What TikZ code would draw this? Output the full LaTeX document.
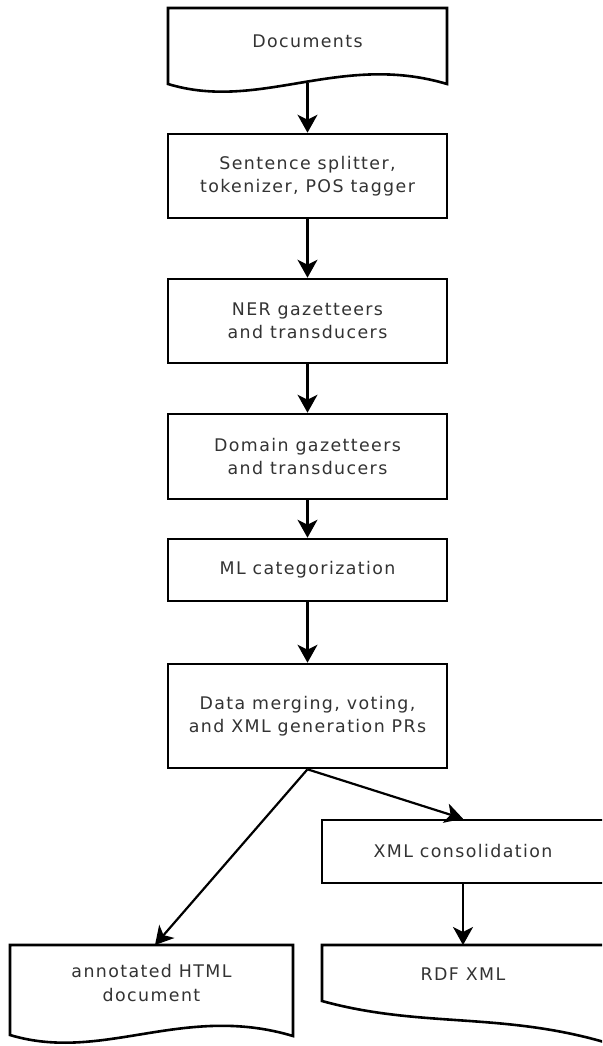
\documentclass[tikz,border=0pt]{standalone}
\usepackage{fontspec}
\setmainfont{DejaVu Sans}[LetterSpace=8]
\usetikzlibrary{arrows.meta}
\begin{document}
\begin{tikzpicture}[x=1pt,y=-1pt,
  every node/.style={font=\fontsize{17.4}{23.5}\selectfont, text=black!80, align=center},
  box/.style={draw=black, line width=2.6pt, rectangle, minimum width=279pt, inner sep=0pt},
  arr/.style={line width=2.2pt, -{Stealth[length=18pt,width=20pt,inset=5pt]}},
  docshape/.style={draw=black, line width=2.6pt, fill=white}]
\clip (0,0) rectangle (602,1046);
\fill[white] (0,0) rectangle (602,1046);
% Documents
\draw[docshape] (168,84) -- (168,8) -- (447,8) -- (447,84) .. controls (340,52) and (260,112) .. (168,84) -- cycle;
\node (docs) at (307.5,41) {Documents};
\coordinate (docsout) at (307.5,83);
% main boxes
\node[box, minimum height=84pt] (sent) at (307.5,176) {Sentence splitter,\\tokenizer, POS tagger};
\node[box, minimum height=84pt] (ner) at (307.5,321) {NER gazetteers\\and transducers};
\node[box, minimum height=85pt] (dom) at (307.5,456.5) {Domain gazetteers\\and transducers};
\node[box, minimum height=62pt] (ml) at (307.5,570) {ML categorization};
\node[box, minimum height=104pt] (merge) at (307.5,716) {Data merging, voting,\\and XML generation PRs};
\node[box, minimum width=282pt, minimum height=63pt] (xmlc) at (463,851.5) {XML consolidation};
% output documents
\draw[docshape] (10,1035) -- (10,945) -- (293,945) -- (293,1036) .. controls (183,1003) and (103,1063) .. (10,1035) -- cycle;
\node (html) at (151.5,983) {annotated HTML\\document};
\coordinate (htmltop) at (155,945);
\draw[docshape] (322,1001) -- (322,945) -- (604,945) -- (604,1042) .. controls (500,1012) and (420,1028) .. (322,1001) -- cycle;
\node (rdf) at (463,974) {RDF XML};
\coordinate (rdftop) at (463,945);
% connectors
\draw[arr] (docsout) -- (sent);
\draw[arr] (sent) -- (ner);
\draw[arr] (ner) -- (dom);
\draw[arr] (dom) -- (ml);
\draw[arr] (ml) -- (merge);
\draw[arr] (merge.south) -- (xmlc.north);
\draw[arr] (merge.south) -- (htmltop);
\draw[arr] (xmlc) -- (rdftop);
\end{tikzpicture}
\end{document}
